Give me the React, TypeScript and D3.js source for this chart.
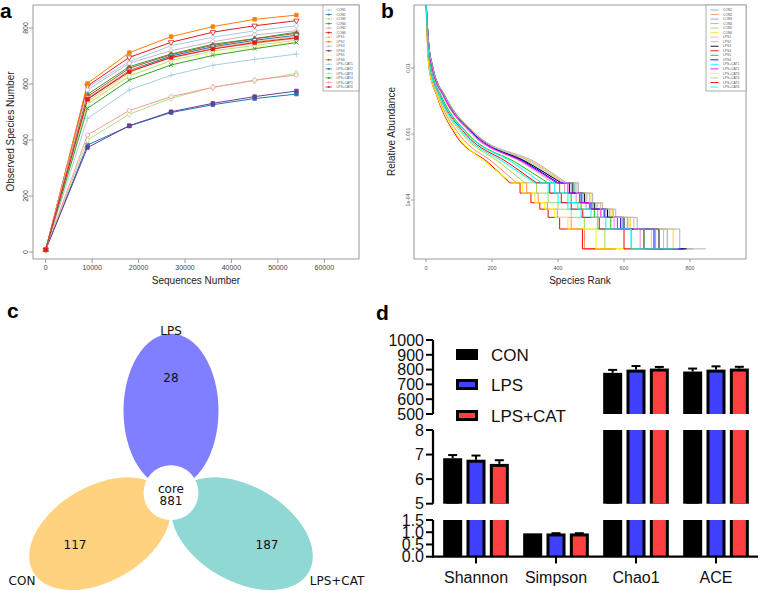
import React from 'react';
import * as d3 from 'd3';

const FONT = "'Liberation Sans', Arial, Helvetica, sans-serif";
const DJ = "'DejaVu Sans', Verdana, sans-serif";

// ---------------- Panel a : rarefaction curves ----------------
const sampleNames = [
  'CON1', 'CON2', 'CON3', 'CON4', 'CON5', 'CON6',
  'LPS1', 'LPS2', 'LPS3', 'LPS4', 'LPS5', 'LPS6',
  'LPS+CAT1', 'LPS+CAT2', 'LPS+CAT3', 'LPS+CAT4', 'LPS+CAT5', 'LPS+CAT6',
];
const seqDepths = [0, 9000, 18000, 27000, 36000, 45000, 54000];
const observedSpecies: number[][] = [
  [8, 588, 680, 737, 767, 790, 808], // CON1
  [8, 382, 450, 498, 526, 548, 564], // CON2
  [8, 400, 492, 549, 588, 612, 638], // CON3
  [8, 563, 662, 707, 742, 762, 785], // CON4
  [8, 418, 505, 555, 588, 614, 632], // CON5
  [8, 593, 695, 749, 785, 808, 826], // CON6
  [8, 537, 640, 700, 730, 751, 769], // LPS1
  [8, 602, 712, 769, 805, 831, 846], // LPS2
  [8, 579, 674, 719, 751, 775, 790], // LPS3
  [8, 373, 451, 501, 531, 555, 575], // LPS4
  [8, 532, 632, 680, 710, 731, 751], // LPS5
  [8, 555, 656, 705, 738, 761, 781], // LPS6
  [8, 477, 579, 631, 667, 688, 707], // LPS+CAT1
  [8, 545, 648, 700, 733, 756, 774], // LPS+CAT2
  [8, 528, 628, 684, 718, 738, 756], // LPS+CAT3
  [8, 513, 614, 668, 702, 726, 748], // LPS+CAT4
  [8, 550, 648, 692, 726, 745, 763], // LPS+CAT5
  [8, 546, 644, 695, 725, 748, 765], // LPS+CAT6
];
const rareXTicks = [0, 10000, 20000, 30000, 40000, 50000, 60000];
const rareYTicks = [0, 200, 400, 600, 800];

const pairedColors = [
  '#a6cee3', '#1f78b4', '#b2df8a', '#33a02c', '#fb9a99', '#e31a1c',
  '#fdbf6f', '#ff7f00', '#cab2d6', '#6a3d9a', '#ffff99', '#b15928',
  '#a6cee3', '#1f78b4', '#b2df8a', '#33a02c', '#fb9a99', '#e31a1c',
];
const markerTypes = [
  'circle', 'square', 'diamond', 'triangle', 'circle', 'triangleDown',
  'plus', 'square', 'circle', 'square', 'x', 'triangle',
  'plus', 'square', 'diamond', 'x', 'circle', 'square',
];
const markerFilled = [
  false, true, false, true, false, false,
  false, true, false, true, false, true,
  false, false, false, false, false, true,
];

// ---------------- Panel b : rank abundance ----------------
const totalReads = 55000;
const abundanceCounts = [6000, 1500, 550, 200, 55, 20, 10, 7, 5, 4, 3, 2, 1];
// rank at which each sample first reaches the count level above
const rankAtCount: number[][] = [
  [0, 7, 21, 58, 146, 312, 412, 450, 485, 515, 555, 610, 731], // CON1
  [0, 4, 10, 37, 100, 205, 275, 305, 340, 368, 398, 440, 480], // CON2
  [0, 6, 19, 55, 142, 300, 400, 440, 475, 505, 545, 595, 696], // CON3
  [0, 6, 18, 53, 138, 295, 385, 420, 455, 485, 520, 570, 649], // CON4
  [0, 4, 11, 40, 110, 225, 300, 335, 370, 400, 440, 480, 542], // CON5
  [0, 7, 22, 60, 152, 330, 427, 460, 500, 530, 565, 620, 749], // CON6
  [0, 7, 21, 58, 150, 318, 415, 452, 488, 520, 560, 615, 683], // LPS1
  [0, 7, 22, 60, 150, 336, 425, 462, 505, 535, 575, 640, 769], // LPS2
  [0, 7, 21, 58, 148, 310, 410, 445, 480, 510, 550, 600, 706], // LPS3
  [0, 4, 9, 34, 88, 190, 254, 285, 318, 345, 370, 405, 474], // LPS4
  [0, 5, 15, 48, 128, 275, 370, 405, 440, 470, 510, 560, 661], // LPS5
  [0, 7, 20, 57, 145, 305, 400, 435, 470, 500, 540, 590, 691], // LPS6
  [0, 5, 12, 42, 115, 240, 330, 370, 400, 430, 470, 520, 621], // LPS+CAT1
  [0, 6, 19, 55, 142, 300, 395, 430, 465, 495, 530, 580, 660], // LPS+CAT2
  [0, 4, 9, 35, 92, 184, 262, 292, 330, 360, 390, 430, 515], // LPS+CAT3
  [0, 7, 21, 58, 148, 325, 420, 455, 495, 528, 568, 630, 720], // LPS+CAT4
  [0, 5, 14, 45, 120, 250, 335, 375, 410, 440, 475, 525, 600], // LPS+CAT5
  [0, 5, 14, 46, 125, 265, 350, 390, 430, 460, 500, 545, 623], // LPS+CAT6
];
const endRank = [810, 564, 780, 740, 632, 768, 770, 848, 790, 575, 758, 781, 707, 772, 638, 745, 763, 765];
const rankXTicks = [0, 200, 400, 600, 800];
const abundYTicks = [0.01, 0.001, 0.0001];
const abundYLabels = ['0.01', '0.001', '1e-04'];
const rankColors = [
  '#66c2a5', '#fc8d62', '#8da0cb', '#e78ac3', '#a6d854', '#ffd92f',
  '#e5c494', '#b3b3b3', '#000000', '#ff0000', '#00cd00', '#0000ff',
  '#00ffff', '#ff00ff', '#ffff00', '#bebebe', '#ff0000', '#00ffff',
];

// ---------------- Panel c : Venn / flower ----------------
const vennGroups = ['LPS', 'CON', 'LPS+CAT'];
const vennUnique = [28, 117, 187];
const vennCore = 881;
const vennColors = ['rgba(0,0,255,0.5)', 'rgba(255,165,0,0.5)', 'rgba(32,178,170,0.5)'];

// ---------------- Panel d : alpha diversity ----------------
const alphaIndices = ['Shannon', 'Simpson', 'Chao1', 'ACE'];
const alphaGroups = ['CON', 'LPS', 'LPS+CAT'];
const meanCON = [6.85, 0.955, 778, 787];
const meanLPS = [6.79, 0.95, 800, 800];
const meanCAT = [6.62, 0.95, 807, 807];
const seCON = [0.13, 0.0, 20, 20];
const seLPS = [0.17, 0.012, 24, 22];
const seCAT = [0.15, 0.01, 11, 12];
const segDomains = [[0, 1.5], [5, 8], [500, 1000]];
const segTicks = [[0, 0.5, 1.0, 1.5], [5, 6, 7, 8], [500, 600, 700, 800, 900, 1000]];
const barColors = ['#000000', '#4040ff', '#ff4040'];

function symbolPath(t: string) {
  const sz = 13;
  const anyD3: any = d3;
  switch (t) {
    case 'square': return d3.symbol(d3.symbolSquare, sz)();
    case 'diamond': return d3.symbol(d3.symbolDiamond, sz)();
    case 'triangle':
    case 'triangleDown': return d3.symbol(d3.symbolTriangle, sz)();
    case 'plus': return d3.symbol(anyD3.symbolPlus || d3.symbolCross, sz)();
    case 'x': return d3.symbol(anyD3.symbolTimes || anyD3.symbolX || d3.symbolCross, sz)();
    default: return d3.symbol(d3.symbolCircle, sz)();
  }
}

function PanelA() {
  const ax = d3.scaleLinear().domain([0, 60000]).range([45.7, 324.3]);
  const ay = d3.scaleLinear().domain([0, 800]).range([252, 28]);
  const line = d3.line<number>().x((_, i) => ax(seqDepths[i])).y((d) => ay(d));
  const box = { x: 33, y: 5, w: 326, h: 254 };
  const legY = d3.scaleLinear().domain([0, 17]).range([10, 87]);
  return (
    <g>
      <text x={0} y={18} fontFamily={FONT} fontWeight="bold" fontSize={21}>a</text>
      {observedSpecies.map((s, i) => (
        <g key={i}>
          <path d={line(s) || ''} fill="none" stroke={pairedColors[i]} strokeWidth={1} />
          {s.map((v, j) => (
            <path key={j} d={symbolPath(markerTypes[i]) || ''}
              transform={`translate(${ax(seqDepths[j])},${ay(v)})${markerTypes[i] === 'triangleDown' ? ' rotate(180)' : ''}`}
              fill={markerFilled[i] ? pairedColors[i] : 'white'} stroke={pairedColors[i]} strokeWidth={0.8} />
          ))}
        </g>
      ))}
      <rect x={box.x} y={box.y} width={box.w} height={box.h} fill="none" stroke="#9a9a9a" strokeWidth={1} />
      {rareYTicks.map((t) => (
        <g key={t}>
          <line x1={box.x} x2={box.x - 4} y1={ay(t)} y2={ay(t)} stroke="#9a9a9a" />
          <text transform={`translate(27.5,${ay(t)}) rotate(-90)`} textAnchor="middle" fontFamily={FONT} fontSize={7} fill="#444">{t}</text>
        </g>
      ))}
      {rareXTicks.map((t) => (
        <g key={t}>
          <line x1={ax(t)} x2={ax(t)} y1={box.y + box.h} y2={box.y + box.h + 4} stroke="#9a9a9a" />
          <text x={ax(t)} y={270} textAnchor="middle" fontFamily={FONT} fontSize={7} fill="#444">{t}</text>
        </g>
      ))}
      <text x={196} y={284} textAnchor="middle" fontFamily={FONT} fontSize={10} fill="#222">Sequences Number</text>
      <text transform="translate(14,131.5) rotate(-90)" textAnchor="middle" fontFamily={FONT} fontSize={10} fill="#222">Observed Species Number</text>
      {/* legend */}
      <rect x={323} y={5} width={36} height={86} fill="white" stroke="#9a9a9a" strokeWidth={0.8} />
      {sampleNames.map((n, i) => (
        <g key={n}>
          <line x1={325.5} x2={332} y1={legY(i)} y2={legY(i)} stroke={pairedColors[i]} strokeWidth={0.8} />
          <path d={d3.symbol(d3.symbolSquare, 3)() || ''} transform={`translate(328.7,${legY(i)})`} fill={pairedColors[i]} />
          <text x={336.5} y={legY(i) + 1.1} fontFamily={FONT} fontSize={3.3} fill="#555">{n}</text>
        </g>
      ))}
    </g>
  );
}

function PanelB() {
  const bx = d3.scaleLinear().domain([0, 200]).range([426, 492]);
  const by = d3.scaleLog().domain([0.0001, 0.01]).range([200, 68]);
  const box = { x: 414, y: 5, w: 332, h: 254 };
  const smooth = d3.line<[number, number]>().x((d) => bx(d[0])).y((d) => by(d[1] / totalReads)).curve(d3.curveMonotoneX);
  const steps = d3.line<[number, number]>().x((d) => bx(d[0])).y((d) => by(d[1] / totalReads)).curve(d3.curveStepAfter);
  const legY = d3.scaleLinear().domain([0, 17]).range([10, 87]);
  return (
    <g>
      <defs>
        <clipPath id="clipB"><rect x={box.x} y={box.y} width={box.w} height={box.h} /></clipPath>
      </defs>
      <text x={381} y={18} fontFamily={FONT} fontWeight="bold" fontSize={21}>b</text>
      <g clipPath="url(#clipB)">
        {rankAtCount.map((ranks, i) => {
          const pts: [number, number][] = ranks.map((r, j) => [r, abundanceCounts[j]]);
          const head = pts.filter((p) => p[1] >= 10);
          const tail = pts.filter((p) => p[1] <= 10).concat([[endRank[i], 1]]);
          return (
            <g key={i}>
              <path d={smooth(head) || ''} fill="none" stroke={rankColors[i]} strokeWidth={1} />
              <path d={steps(tail) || ''} fill="none" stroke={rankColors[i]} strokeWidth={1} />
            </g>
          );
        })}
      </g>
      <rect x={box.x} y={box.y} width={box.w} height={box.h} fill="none" stroke="#9a9a9a" strokeWidth={1} />
      {abundYTicks.map((t, i) => (
        <g key={t}>
          <line x1={box.x} x2={box.x - 3} y1={by(t)} y2={by(t)} stroke="#9a9a9a" />
          <text transform={`translate(409.5,${by(t)}) rotate(-90)`} textAnchor="middle" fontFamily={FONT} fontSize={5} fill="#555">{abundYLabels[i]}</text>
        </g>
      ))}
      {rankXTicks.map((t) => (
        <g key={t}>
          <line x1={bx(t)} x2={bx(t)} y1={box.y + box.h} y2={box.y + box.h + 3} stroke="#9a9a9a" />
          <text x={bx(t)} y={269.5} textAnchor="middle" fontFamily={FONT} fontSize={5.5} fill="#555">{t}</text>
        </g>
      ))}
      <text x={580} y={284} textAnchor="middle" fontFamily={FONT} fontSize={10} fill="#222">Species Rank</text>
      <text transform="translate(395,131.5) rotate(-90)" textAnchor="middle" fontFamily={FONT} fontSize={10} fill="#222">Relative Abundance</text>
      <rect x={706} y={5} width={40} height={86} fill="white" stroke="#9a9a9a" strokeWidth={0.8} />
      {sampleNames.map((n, i) => (
        <g key={n}>
          <line x1={710.5} x2={718.5} y1={legY(i)} y2={legY(i)} stroke={rankColors[i]} strokeWidth={0.9} />
          <text x={723} y={legY(i) + 1.1} fontFamily={FONT} fontSize={3.3} fill="#555">{n}</text>
        </g>
      ))}
    </g>
  );
}

function PanelC() {
  const cx = 171, cy = 492.7, dist = 82;
  const angles = [-90, 150, 30];
  const centers = angles.map((a) => [cx + dist * Math.cos((a * Math.PI) / 180), cy + dist * Math.sin((a * Math.PI) / 180)]);
  const labelPos = [[171, 335], [22, 585], [337, 585]];
  const numPos = [[171, 382], [75, 549], [267, 549]];
  const order = [1, 2, 0];
  return (
    <g>
      <text x={7} y={318} fontFamily={FONT} fontWeight="bold" fontSize={21}>c</text>
      {order.map((i) => (
        <ellipse key={i} cx={centers[i][0]} cy={centers[i][1]} rx={47.5} ry={77}
          transform={`rotate(${angles[i] + 90},${centers[i][0]},${centers[i][1]})`}
          fill={vennColors[i]} />
      ))}
      <circle cx={cx} cy={cy} r={27.5} fill="white" />
      {vennGroups.map((g, i) => (
        <g key={g}>
          <text x={labelPos[i][0]} y={labelPos[i][1]} textAnchor="middle" fontFamily={DJ} fontSize={12} fill="#111">{g}</text>
          <text x={numPos[i][0]} y={numPos[i][1]} textAnchor="middle" fontFamily={DJ} fontSize={12} fill="#111">{vennUnique[i]}</text>
        </g>
      ))}
      <text x={cx} y={493} textAnchor="middle" fontFamily={DJ} fontSize={12} fill="#111">core</text>
      <text x={cx} y={505} textAnchor="middle" fontFamily={DJ} fontSize={12} fill="#111">{vennCore}</text>
    </g>
  );
}

function PanelD() {
  const axisX = 433;
  const segRanges = [[556.7, 520], [503.7, 430], [414, 340]];
  const scales = segDomains.map((dom, i) => d3.scaleLinear().domain(dom).range(segRanges[i]));
  const xb = d3.scaleBand().domain(alphaIndices).range([436, 756]);
  const xi = d3.scaleBand().domain(alphaGroups).range([-35, 35]);
  const means = [meanCON, meanLPS, meanCAT];
  const ses = [seCON, seLPS, seCAT];
  const barW = 19, sw = 3;
  const fmt = (t: number, s: number) => (s === 0 ? d3.format('.1f')(t) : String(t));
  const bars: React.ReactNode[] = [];
  alphaIndices.forEach((idx, k) => {
    alphaGroups.forEach((g, gi) => {
      const c = (xb(idx) || 0) + xb.bandwidth() / 2 + (xi(g) || 0) + xi.bandwidth() / 2;
      const v = means[gi][k];
      const e = ses[gi][k];
      const left = c - barW / 2;
      segDomains.forEach((dom, s) => {
        if (v <= dom[0]) return;
        const top = Math.min(v, dom[1]);
        const y0 = scales[s](dom[0]);
        const y1 = scales[s](top);
        bars.push(
          <g key={`${idx}-${g}-${s}`}>
            <rect x={left} y={y1} width={barW} height={y0 - y1} fill="#000" />
            <rect x={left + sw} y={y1 + (v <= dom[1] ? sw : 0)} width={barW - 2 * sw} height={Math.max(0, y0 - y1 - (v <= dom[1] ? sw : 0))} fill={barColors[gi]} />
          </g>
        );
        if (v <= dom[1] && e > 0) {
          const ye = scales[s](v + e);
          bars.push(
            <g key={`${idx}-${g}-${s}-err`}>
              <line x1={c} x2={c} y1={y1} y2={ye} stroke="#000" strokeWidth={2} />
              <line x1={c - 4.5} x2={c + 4.5} y1={ye} y2={ye} stroke="#000" strokeWidth={2} />
            </g>
          );
        }
      });
    });
  });
  return (
    <g>
      <text x={376} y={320} fontFamily={FONT} fontWeight="bold" fontSize={21}>d</text>
      {bars}
      {segDomains.map((dom, s) => (
        <g key={s}>
          <line x1={axisX} x2={axisX} y1={segRanges[s][0] + (s === 0 ? 1 : 0)} y2={segRanges[s][1]} stroke="#000" strokeWidth={2.2} />
          {segTicks[s].map((t) => (
            <g key={t}>
              <line x1={axisX - 7} x2={axisX} y1={scales[s](t)} y2={scales[s](t)} stroke="#000" strokeWidth={2} />
              <text x={424} y={scales[s](t)} dy="0.36em" textAnchor="end" fontFamily={FONT} fontSize={16} fill="#111">{fmt(t, s)}</text>
            </g>
          ))}
        </g>
      ))}
      <line x1={axisX - 1} x2={758} y1={556.7} y2={556.7} stroke="#000" strokeWidth={2.2} />
      {alphaIndices.map((idx) => {
        const c = (xb(idx) || 0) + xb.bandwidth() / 2;
        return (
          <g key={idx}>
            <line x1={c} x2={c} y1={556.7} y2={563.5} stroke="#000" strokeWidth={2} />
            <text x={c} y={583} textAnchor="middle" fontFamily={FONT} fontSize={16} fill="#111">{idx}</text>
          </g>
        );
      })}
      {alphaGroups.map((g, i) => {
        const ly = [354.5, 384.5, 415.5][i];
        return (
          <g key={g}>
            <rect x={456} y={ly - 5.5} width={22} height={11} fill="#000" />
            <rect x={459} y={ly - 2.5} width={16} height={5} fill={barColors[i]} />
            <text x={491} y={ly} dy="0.36em" fontFamily={FONT} fontSize={17} fill="#111">{g}</text>
          </g>
        );
      })}
    </g>
  );
}

export default function App() {
  return (
    <svg width={760} height={591} viewBox="0 0 760 591"
      style={{ position: 'absolute', left: 0, top: 0, background: 'white' }}>
      <rect x={0} y={0} width={760} height={591} fill="white" />
      <PanelA />
      <PanelB />
      <PanelC />
      <PanelD />
    </svg>
  );
}
